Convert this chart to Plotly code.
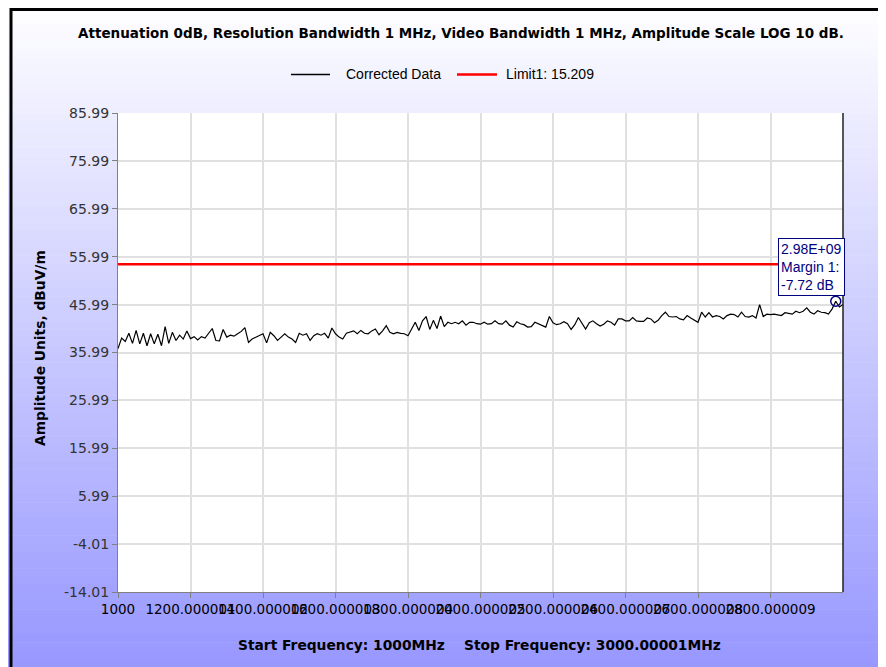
import numpy as np
import plotly.graph_objects as go

# sweep definition (MHz)
START_MHZ = 1000.0
STOP_MHZ = 3000.00001
N_POINTS = 201

# corrected data, dBuV/m, one reading per 10 MHz step
corrected = [
    36.8, 39.0, 38.3, 40.0, 37.9, 40.6, 37.8, 40.0, 37.4, 39.9,
    37.8, 39.8, 37.4, 41.4, 37.9, 40.2, 38.5, 39.6, 38.8, 40.5,
    38.9, 39.3, 38.6, 39.3, 39.0, 40.0, 41.0, 38.5, 38.4, 40.8,
    39.2, 39.6, 39.4, 39.9, 40.4, 41.2, 38.1, 38.8, 39.2, 39.5,
    39.9, 38.0, 40.2, 39.5, 38.5, 39.2, 39.9, 39.2, 38.8, 38.1,
    40.0, 39.6, 39.9, 38.5, 39.5, 39.9, 39.6, 40.0, 39.0, 41.1,
    39.9, 39.2, 38.8, 40.0, 40.3, 40.5, 39.9, 40.6, 40.0, 39.9,
    40.5, 40.9, 39.7, 40.5, 41.6, 40.2, 39.9, 40.2, 40.0, 39.9,
    39.5, 40.9, 42.3, 40.6, 42.6, 43.5, 40.8, 42.7, 41.0, 43.6,
    41.4, 42.3, 42.0, 42.3, 42.0, 42.6, 41.7, 42.3, 42.3, 42.0,
    41.9, 42.3, 41.9, 42.0, 42.6, 42.0, 41.9, 42.6, 41.7, 41.3,
    42.4, 42.0, 41.8, 41.3, 41.4, 42.3, 42.0, 41.6, 41.3, 43.5,
    42.2, 41.8, 42.0, 42.4, 42.0, 40.8, 41.8, 43.3, 42.0, 40.9,
    42.2, 42.6, 42.0, 41.5, 41.9, 42.6, 42.3, 41.7, 43.0, 43.0,
    42.6, 42.6, 43.3, 42.6, 42.5, 42.5, 43.2, 43.0, 42.2, 42.7,
    43.7, 44.4, 43.5, 43.4, 43.5, 43.0, 42.8, 43.7, 43.2, 42.8,
    42.3, 44.4, 43.4, 44.3, 43.4, 43.7, 43.5, 43.0, 43.7, 44.0,
    43.9, 43.4, 44.4, 43.5, 43.4, 43.7, 43.2, 46.0, 43.5, 44.0,
    43.9, 44.0, 43.9, 43.7, 44.3, 44.2, 44.0, 44.6, 44.3, 44.6,
    45.3, 44.4, 44.0, 44.7, 44.4, 44.3, 44.0, 45.1, 46.7, 45.5,
    46.0,
]
limit_level = 54.4          # drawn level of Limit1
marker_freq = 2980.0
marker_level = 46.7
marker_text = ["2.98E+09", "Margin 1:", "-7.72 dB"]
legend_names = ["Corrected Data", "Limit1: 15.209"]
legend_colors = ["black", "#FF0000"]

y_ticks = [85.99, 75.99, 65.99, 55.99, 45.99, 35.99, 25.99, 15.99, 5.99, -4.01, -14.01]
x_ticks = [1000, 1200, 1400, 1600, 1800, 2000, 2200, 2400, 2600, 2800]
x_ticktext = ["1000", "1200.000001", "1400.000002", "1600.000003", "1800.000004",
              "2000.000005", "2200.000006", "2400.000007", "2600.000008", "2800.000009"]

# page places the figure 8px in from the top-left corner
OFF = 8
W, H = 886 - OFF, 667 - OFF
L, R, T, B = 110, 43, 105, 75
PW, PH = W - L - R, H - T - B

FONT = "DejaVu Sans, sans-serif"
LEG_FONT = "Liberation Sans, Arial, sans-serif"
NAVY = "#000080"

freq = np.linspace(START_MHZ, STOP_MHZ, N_POINTS)


def sx(px):
    """screen x pixel -> paper fraction"""
    return (px - OFF - L) / PW


def sy(py):
    """screen y pixel -> paper fraction"""
    return (H - B - (py - OFF)) / PH


fig = go.Figure()
fig.add_trace(go.Scatter(x=freq, y=corrected, mode="lines", name=legend_names[0],
                         line=dict(color=legend_colors[0], width=1.2)))
fig.add_trace(go.Scatter(x=[START_MHZ, STOP_MHZ], y=[limit_level, limit_level],
                         mode="lines", name=legend_names[1],
                         line=dict(color=legend_colors[1], width=2.5)))
fig.add_trace(go.Scatter(x=[marker_freq], y=[marker_level], mode="markers",
                         cliponaxis=False,
                         marker=dict(symbol="circle-open", size=10,
                                     color=NAVY, line=dict(width=1.5))))

# background: white-to-lavender vertical gradient built from thin bands
shapes = []
n_bands = 80
for i in range(n_bands):
    y0 = OFF + i * H / n_bands
    y1 = OFF + (i + 1) * H / n_bands + 0.5
    t = (y0 + H / n_bands / 2) / 667
    c = int(round(255 - 104 * t))
    shapes.append(dict(type="rect", xref="paper", yref="paper", layer="below",
                       x0=sx(OFF), x1=sx(OFF + W), y0=sy(y1), y1=sy(y0),
                       fillcolor=f"rgb({c},{c},255)", line=dict(width=0)))
# white plotting area
shapes.append(dict(type="rect", xref="paper", yref="paper", layer="below",
                   x0=0, x1=1, y0=0, y1=1, fillcolor="white", line=dict(width=0)))
# outer frame (top and left edges)
shapes.append(dict(type="line", xref="paper", yref="paper", layer="above",
                   x0=sx(10), x1=sx(OFF + W), y0=sy(OFF + 1.5), y1=sy(OFF + 1.5),
                   line=dict(color="black", width=3)))
shapes.append(dict(type="line", xref="paper", yref="paper", layer="above",
                   x0=sx(11), x1=sx(11), y0=sy(OFF), y1=sy(OFF + H),
                   line=dict(color="black", width=3)))
# right plot edge
shapes.append(dict(type="line", xref="paper", yref="paper", layer="above",
                   x0=1, x1=1, y0=0, y1=1, line=dict(color="#202020", width=1.5)))

# legend drawn by hand so the sample lines match the original length
annotations = []
leg_lines = [(291, 330), (457, 497)]
leg_text_x = [344, 504]
for (a, b), tx, name, col, w in zip(leg_lines, leg_text_x, legend_names,
                                    legend_colors, [1.6, 2.5]):
    shapes.append(dict(type="line", xref="paper", yref="paper",
                       x0=sx(a), x1=sx(b), y0=sy(74.5), y1=sy(74.5),
                       line=dict(color=col, width=w)))
    annotations.append(dict(text=name, xref="paper", yref="paper",
                            x=sx(tx), y=sy(74), xanchor="left", yanchor="middle",
                            showarrow=False,
                            font=dict(family=LEG_FONT, size=14, color="black")))

annotations += [
    dict(text="<b>Start Frequency: 1000MHz&nbsp;&nbsp;&nbsp;&nbsp;"
              "Stop Frequency: 3000.00001MHz</b>",
         xref="paper", yref="paper", x=sx(479), y=sy(645),
         xanchor="center", yanchor="middle", showarrow=False,
         font=dict(family=FONT, size=13.8, color="black")),
    dict(text="<b>Amplitude Units, dBuV/m</b>", textangle=-90,
         xref="paper", yref="paper", x=sx(40), y=sy(348),
         xanchor="center", yanchor="middle", showarrow=False,
         font=dict(family=FONT, size=13.8, color="black")),
    dict(text="<br>".join(marker_text), align="left",
         xref="paper", yref="paper", x=sx(811), y=sy(267),
         xanchor="center", yanchor="middle", showarrow=False,
         bgcolor="white", bordercolor=NAVY, borderwidth=1, borderpad=2,
         font=dict(family=LEG_FONT, size=14, color=NAVY)),
]

fig.update_layout(
    width=W, height=H,
    margin=dict(l=L, r=R, t=T, b=B),
    paper_bgcolor="white", plot_bgcolor="white",
    font=dict(family=FONT, size=13, color="black"),
    shapes=shapes,
    annotations=annotations,
    showlegend=False,
    title=dict(text="<b>Attenuation 0dB, Resolution Bandwidth 1 MHz, Video Bandwidth 1 MHz, "
                    "Amplitude Scale LOG 10 dB.</b>",
               x=(461 - OFF) / W, xanchor="center", xref="container",
               y=1 - (33 - OFF) / H, yanchor="middle", yref="container",
               font=dict(family=FONT, size=13.5, color="black")),
)
fig.update_xaxes(range=[START_MHZ, STOP_MHZ], tickmode="array",
                 tickvals=x_ticks, ticktext=x_ticktext, tickangle=0,
                 showgrid=True, gridcolor="#E0E0E0", gridwidth=1.5,
                 showline=True, linecolor="#808080", linewidth=1,
                 ticks="outside", ticklen=5, tickcolor="#808080",
                 tickfont=dict(family=FONT, size=13.5, color="black"),
                 zeroline=False)
fig.update_yaxes(range=[-14.01, 85.99], tickmode="array", tickvals=y_ticks,
                 ticktext=[f"{v:.2f}" for v in y_ticks],
                 showgrid=True, gridcolor="#E0E0E0", gridwidth=1.5,
                 showline=True, linecolor="#808080", linewidth=1,
                 ticks="outside", ticklen=5, tickcolor="#808080",
                 tickfont=dict(family=FONT, size=14, color="#333333"),
                 zeroline=False)

fig.write_html("out.html")
